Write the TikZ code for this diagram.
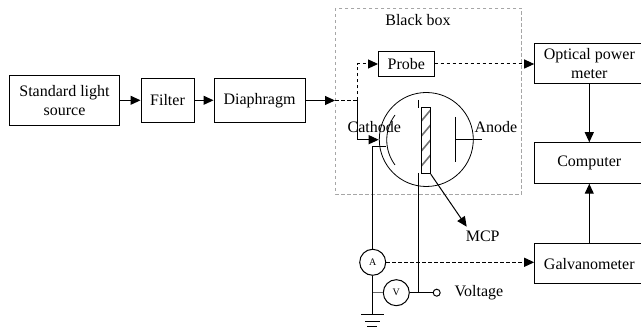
\documentclass[tikz,border=0pt]{standalone}
\usepackage{fontspec}
\setmainfont{Liberation Serif}
\usetikzlibrary{arrows.meta,patterns}
\tikzset{
  x=1pt,y=-1pt,
  every node/.style={font=\fontsize{16}{19.5}\selectfont,inner sep=0pt,align=center},
  blockbox/.style={draw=black,line width=1pt,anchor=center},
  conn/.style={line width=1pt,-{Triangle[length=10pt,width=9pt]}},
  dconn/.style={conn,dash pattern=on 3.5pt off 2.5pt},
  wire/.style={line width=1pt},
  meter/.style={circle,draw=black,line width=1pt,minimum size=26pt,font=\fontsize{10}{12}\selectfont},
  lbl/.style={anchor=center},
}
\begin{document}
\begin{tikzpicture}
\useasboundingbox (0,0) rectangle (641,328);
\clip (0,0) rectangle (641,328);
% black box
\draw[gray!70,line width=0.8pt,dash pattern=on 3.5pt off 2.5pt] (335,8) rectangle (521.7,194);
\node[lbl] (bb) at (418,20) {Black box};
% blocks
\node[blockbox,minimum width=110pt,minimum height=50.5pt] (src) at (64.5,100.3) {Standard light\\source};
\node[blockbox,minimum width=53pt,minimum height=43.5pt] (filt) at (167.5,100.3) {Filter};
\node[blockbox,minimum width=91pt,minimum height=43.5pt] (dia) at (259.5,100.3) {Diaphragm};
\node[blockbox,minimum width=55.5pt,minimum height=24.5pt] (probe) at (406.3,64) {Probe};
\node[blockbox,minimum width=109.2pt,minimum height=40.5pt] (opt) at (589.3,63.5) {Optical power\\meter};
\node[blockbox,minimum width=109.2pt,minimum height=40.5pt] (comp) at (589.3,163) {Computer};
\node[blockbox,minimum width=109.2pt,minimum height=40.5pt] (gal) at (589.3,263.7) {Galvanometer};
\coordinate (split) at (335,100.5);
\coordinate (fork) at (357.3,100.5);
\coordinate (catharrow) at (378.7,139.7);
% top row
\draw[conn] (src) -- (filt);
\draw[conn] (filt) -- (dia);
\draw[conn] (dia.east |- split) -- (split);
\draw[dash pattern=on 3.5pt off 2.5pt,wire] (split) -- (fork);
\draw[dconn] (fork) |- (probe.west);
\draw[conn] (fork) |- (catharrow);
\draw[dconn] (probe) -- (probe -| opt.west);
\draw[conn] (opt) -- (comp);
\draw[conn] (gal) -- (comp);
% tube
\node[circle,draw=black,line width=0.8pt,minimum size=94pt] (tube) at (426.3,139.5) {};
\draw[line width=0.8pt] (395,115) .. controls (384,130) and (384,150) .. (395,165);
\node[draw=black,line width=1pt,minimum width=9pt,minimum height=66pt,
  path picture={
    \foreach \k in {0,1,2,3} \draw[line width=1.6pt,black!55] (-5,-19+\k*15) -- (5,-31+\k*15);
  }] (mcp) at (425.8,140.7) {};
% cathode lead, grid, anode
\node[lbl] (cath) at (374.3,127) {Cathode};
\node[lbl,anchor=west] (an) at (474.3,127) {Anode};
\coordinate (gridtop) at (418.3,100);
\coordinate (gridmid) at (418.3,108);
\draw[wire] (gridtop) -- (gridmid);
\coordinate (andiscA) at (455.7,117);
\coordinate (andiscB) at (455.7,162);
\coordinate (anlead) at (482,139.5);
\draw[wire] (andiscA) -- (andiscB);
\draw[wire] (andiscA |- anlead) -- (anlead);
% meters
\node[meter] (A) at (372.7,262.3) {A};
\node[meter] (V) at (396.3,292.7) {V};
\coordinate (cathend) at (386,146.3);
\draw[wire] (cathend) -| (A.north);
\node[circle,draw=black,line width=1pt,minimum size=7pt] (term) at (436.7,292.7) {};
\draw[wire] (V) -- (term);
\coordinate (gridlow) at (418.3,173);
\draw[wire] (gridlow) -- (gridlow |- V);
\draw[dconn] (A) -- (A -| gal.west);
\node[lbl] (volt) at (479,292.5) {Voltage};
% ground
\coordinate (g1) at (372.7,315);
\draw[wire] (A) -- (g1);
\draw[black!60,wire] (V) -- (V -| A);
\draw[line width=1.3pt] (361,314.7) -- (384,314.7);
\draw[line width=1pt] (365,321.3) -- (380,321.3);
\draw[line width=1pt] (367,327) -- (377,327);
% MCP arrow
\coordinate (mcptip) at (466.7,226.7);
\draw[conn] (mcp.south east) -- (mcptip);
\node[lbl] (mcpl) at (482.7,236.7) {MCP};
\end{tikzpicture}
\end{document}
